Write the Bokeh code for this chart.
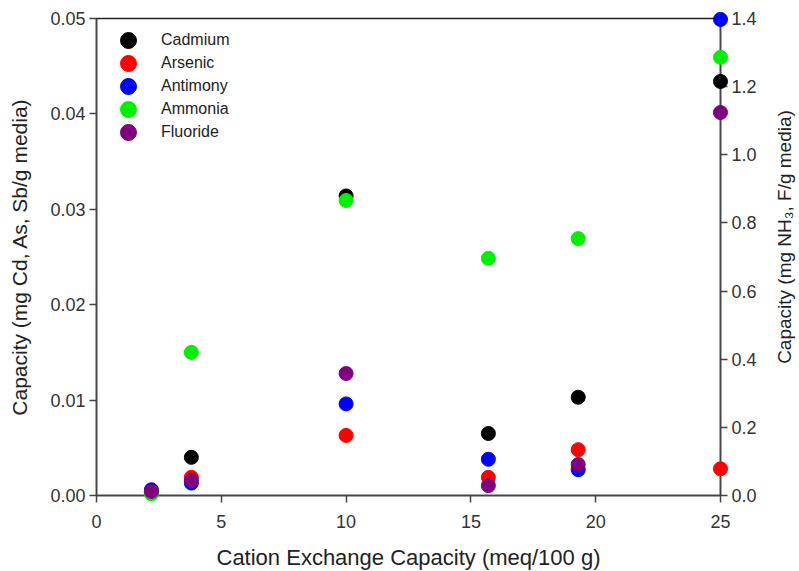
import math
from bokeh.plotting import figure
from bokeh.models import (LinearAxis, Range1d, FixedTicker, PrintfTickFormatter,
                          Legend, LegendItem, ColumnDataSource)
from bokeh.core.properties import value
from bokeh.embed import file_html
from bokeh.resources import INLINE

# Data (x = cation exchange capacity, meq/100 g)
cec = [2.2, 3.8, 10.0, 15.7, 19.3, 25.0]
# left axis: mg/g media
cadmium = [0.0003, 0.0040, 0.0314, 0.0065, 0.0103, 0.0434]
arsenic = [0.0004, 0.0019, 0.0063, 0.0019, 0.0048, 0.0028]
antimony = [0.0006, 0.0013, 0.0096, 0.0038, 0.0027, 0.0499]
# right axis: mg/g media
ammonia = [0.005, 0.42, 0.866, 0.696, 0.754, 1.286]
fluoride = [0.012, 0.044, 0.358, 0.029, 0.091, 1.124]

x_ticks = [0, 5, 10, 15, 20, 25]
left_ticks = [0.0, 0.01, 0.02, 0.03, 0.04, 0.05]
right_ticks = [0.0, 0.2, 0.4, 0.6, 0.8, 1.0, 1.2, 1.4]
right_title = "Capacity (mg NH\u2083, F/g media)"

series = [
    ("Cadmium", cadmium, "#000000", "default"),
    ("Arsenic", arsenic, "#ff0000", "default"),
    ("Antimony", antimony, "#0000ff", "default"),
    ("Ammonia", ammonia, "#00f000", "right"),
    ("Fluoride", fluoride, "#800080", "right"),
]

FONT = "Liberation Sans"
AX = "#444444"
TXT = "#333333"

x_range = Range1d(0, 25)
right_range = Range1d(0, 1.4)
p = figure(width=799, height=571, output_backend="svg", toolbar_location=None,
           x_range=x_range, y_range=Range1d(0, 0.05),
           frame_width=624, frame_height=477,
           min_border_left=96, min_border_right=79, min_border_top=18, min_border_bottom=76)
p.extra_y_ranges = {"right": right_range}
p.grid.visible = False
p.outline_line_color = "#222222"
p.outline_line_width = 1.5
p.background_fill_color = "white"
p.border_fill_color = "white"

renderers = []
for name, vals, col, rng in series:
    src = ColumnDataSource(dict(x=cec, y=vals))
    r = p.scatter("x", "y", source=src, size=14, fill_color=col, line_color=col,
                  y_range_name=rng, level="overlay")
    renderers.append((name, r))

# bottom axis
xa = p.xaxis[0]
xa.ticker = FixedTicker(ticks=x_ticks)
xa.axis_label = "Cation Exchange Capacity (meq/100 g)"
# left axis
ya = p.yaxis[0]
ya.ticker = FixedTicker(ticks=left_ticks)
ya.formatter = PrintfTickFormatter(format="%.2f")
ya.axis_label = "Capacity (mg Cd, As, Sb/g media)"
# right axis
ra = LinearAxis(y_range_name="right", ticker=FixedTicker(ticks=right_ticks),
                formatter=PrintfTickFormatter(format="%.1f"))
p.add_layout(ra, "right")

for ax in [xa, ya, ra]:
    ax.axis_line_color = AX
    ax.axis_line_width = 1.5
    ax.major_tick_line_color = AX
    ax.major_tick_line_width = 1.5
    ax.major_tick_out = 7
    ax.major_tick_in = 0
    ax.minor_tick_line_color = None
    ax.major_label_text_font = FONT
    ax.major_label_text_font_size = "18px"
    ax.major_label_text_color = TXT
    ax.major_label_standoff = 4
    ax.axis_label_text_font = FONT
    ax.axis_label_text_font_size = "21px"
    ax.axis_label_text_font_style = "normal"
    ax.axis_label_text_color = "#222222"
xa.major_label_standoff = 12
xa.axis_label_standoff = 14
xa.axis_label_text_font_size = "22px"
ya.axis_label_standoff = 16

# right-hand axis title, reading bottom to top like the left one
p.text(x=[x_range.end], y=[(right_range.start + right_range.end) / 2],
       text=[right_title], angle=math.pi / 2, x_offset=64, y_offset=-20,
       text_align="center", text_baseline="middle", y_range_name="right",
       text_font=value(FONT), text_font_size=value("19px"), text_color="#222222",
       level="overlay")

# one small legend per entry so the rows can sit close together
for i, (name, r) in enumerate(renderers):
    lg = Legend(items=[LegendItem(label=name, renderers=[r])],
                location=(12, 435 - 23 * i), border_line_color=None,
                background_fill_alpha=0, padding=0, margin=0,
                glyph_width=40, glyph_height=40, label_height=16,
                label_standoff=13, label_text_font=FONT, label_text_font_size="16px",
                label_text_color="#222222")
    p.add_layout(lg, "center")

open("out.html", "w").write(file_html(p, INLINE))
